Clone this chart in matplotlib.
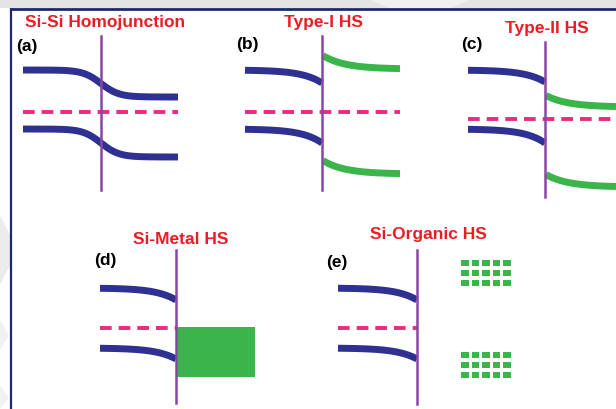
import numpy as np
import matplotlib.pyplot as plt
from matplotlib.patches import Rectangle, Polygon

NAVY = "#2e3192"
GREEN = "#39b54a"
PINK = "#ec2a7e"
PURPLE = "#8a45a8"
RED = "#ed1c24"

# panel titles and labels
titles = ["Si-Si Homojunction", "Type-I HS", "Type-II HS", "Si-Metal HS", "Si-Organic HS"]
title_x = [105, 323, 547, 181, 428]
title_y = [23, 22, 28, 240, 234]
labels = ["(a)", "(b)", "(c)", "(d)", "(e)"]
label_x = [16, 236, 461, 94, 326]
label_y = [46, 44, 44, 261, 263]

# interface line per panel
iface_x = [101, 322, 545, 176, 417]
iface_top = [36, 36, 42, 250, 250]
iface_bot = [190, 190, 197, 403, 404]

# Si bands on the left side: start x, level far from the interface, level at the interface
si_start = [23, 245, 468, 100, 338]
cb_far = [70, 70, 70, 288, 288]
cb_edge = [83.5, 83, 82, 300, 300]
vb_far = [129, 129, 129, 348, 348]
vb_edge = [143, 143, 143, 359, 359]

# homojunction: right side end and levels
homo_end = 178
homo_cb_right = 97
homo_vb_right = 157

# Fermi level (dashed)
ef_x0 = [23, 245, 468, 100, 338]
ef_x1 = [178, 400, 616, 176, 417]
ef_y = [112, 112, 119, 328, 328]

# semiconductor on the right (b, c): level at interface, flat level, end x
hs_panels = [1, 2]
hs_end = [400, 616]
hs_cb_edge = [55, 95]
hs_cb_flat = [69, 107]
hs_vb_edge = [160, 174]
hs_vb_flat = [174, 187]

# metal block in (d)
metal_x1 = 255
metal_y0 = 327
metal_y1 = 377

# organic levels in (e): five columns, three rows per block
org_cols = [465, 475.5, 486, 496.5, 507]
org_rows_top = [263, 273, 283]
org_rows_bot = [355, 365, 375]

fig = plt.figure(figsize=(6.16, 4.09), dpi=100)
ax = fig.add_axes([0, 0, 1, 1])
ax.set_xlim(0, 616)
ax.set_ylim(409, 0)
ax.axis("off")

# page background around the frame
ax.add_patch(Rectangle((0, 0), 616, 8, color="#e4e4e4", lw=0, zorder=0))
ax.add_patch(Polygon([(370, 0), (470, 0), (450, 8), (390, 8)], color="#f0f0f0", lw=0, zorder=0))
ax.add_patch(Polygon([(0, 215), (10, 235), (10, 265), (0, 285)], color="#ececec", lw=0, zorder=0))
ax.add_patch(Polygon([(0, 320), (9, 335), (0, 350)], color="#f1f1f1", lw=0, zorder=0))
ax.add_patch(Polygon([(0, 385), (9, 398), (0, 409)], color="#f1f1f1", lw=0, zorder=0))
ax.plot([11, 616], [8.8, 8.8], color="#1c2a6b", lw=2.0, solid_capstyle="butt", zorder=1)
ax.plot([11, 11], [8, 409], color="#1c2a6b", lw=1.6, solid_capstyle="butt", zorder=1)

band_lw = 5.0
for i in range(5):
    ax.text(title_x[i], title_y[i], titles[i], color=RED, fontsize=12.5, fontweight="bold",
            family="Liberation Sans", ha="center", va="center")
    ax.text(label_x[i], label_y[i], labels[i], color="black", fontsize=12.5, fontweight="bold",
            family="Liberation Sans", ha="left", va="center")

    # Fermi level
    ax.plot([ef_x0[i], ef_x1[i]], [ef_y[i], ef_y[i]], color=PINK, lw=2.8,
            dashes=(3.0, 1.8), dash_capstyle="butt", zorder=2)

    if i == 0:
        # homojunction: smooth band bending across the junction
        x = np.linspace(si_start[0], homo_end, 200)
        s = (1 + np.tanh((x - iface_x[0]) / 18)) / 2
        ax.plot(x, cb_far[0] + (homo_cb_right - cb_far[0]) * s, color=NAVY, lw=band_lw,
                solid_capstyle="butt", zorder=3)
        ax.plot(x, vb_far[0] + (homo_vb_right - vb_far[0]) * s, color=NAVY, lw=band_lw,
                solid_capstyle="butt", zorder=3)
    else:
        x = np.linspace(si_start[i], iface_x[i], 200)
        s = np.exp((x - iface_x[i]) / 20)
        ax.plot(x, cb_far[i] + (cb_edge[i] - cb_far[i]) * s, color=NAVY, lw=band_lw,
                solid_capstyle="butt", zorder=3)
        ax.plot(x, vb_far[i] + (vb_edge[i] - vb_far[i]) * s, color=NAVY, lw=band_lw,
                solid_capstyle="butt", zorder=3)

    ax.plot([iface_x[i], iface_x[i]], [iface_top[i], iface_bot[i]], color=PURPLE, lw=1.8, zorder=4)

for k, p in enumerate(hs_panels):
    x = np.linspace(iface_x[p] + 1, hs_end[k], 200)
    s = np.exp(-(x - iface_x[p]) / 22)
    ax.plot(x, hs_cb_flat[k] - (hs_cb_flat[k] - hs_cb_edge[k]) * s, color=GREEN, lw=band_lw,
            solid_capstyle="butt", zorder=3)
    ax.plot(x, hs_vb_flat[k] - (hs_vb_flat[k] - hs_vb_edge[k]) * s, color=GREEN, lw=band_lw,
            solid_capstyle="butt", zorder=3)

ax.add_patch(Rectangle((iface_x[3], metal_y0), metal_x1 - iface_x[3], metal_y1 - metal_y0,
                       color=GREEN, lw=0, zorder=3))

for rows in (org_rows_top, org_rows_bot):
    for cy in rows:
        for cx in org_cols:
            ax.add_patch(Rectangle((cx - 3.6, cy - 2.6), 7.2, 5.2, color=GREEN, lw=0, zorder=3))

fig.savefig("out.png", dpi=100)
